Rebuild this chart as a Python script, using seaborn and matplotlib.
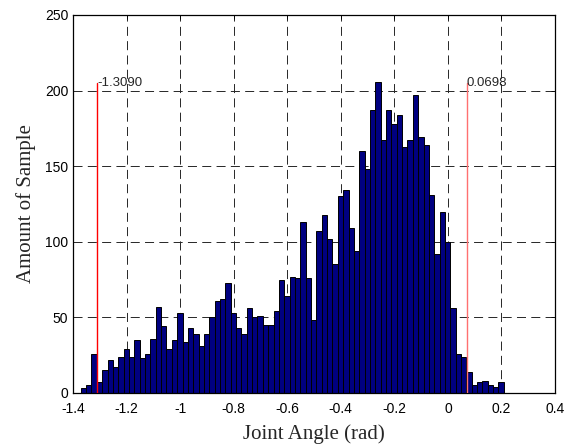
import numpy as np
import pandas as pd
import matplotlib
matplotlib.use("Agg")
import matplotlib.pyplot as plt
import seaborn as sns

# ---- data ----
bin_start = -1.371
bin_width = 0.02
counts = [3, 5, 26, 7, 15, 22, 17, 24, 29, 24,
          35, 23, 26, 36, 57, 44, 29, 35, 53, 34,
          43, 39, 31, 39, 50, 61, 62, 73, 53, 43,
          39, 56, 50, 51, 45, 45, 54, 75, 64, 77,
          76, 113, 76, 48, 107, 118, 102, 85, 130, 134,
          109, 94, 160, 148, 187, 206, 167, 187, 178, 184,
          163, 167, 197, 169, 164, 131, 92, 120, 100, 56,
          26, 24, 14, 5, 7, 8, 5, 4, 7]
limit_values = [-1.3090, 0.0698]
limit_labels = ["-1.3090", "0.0698"]
limit_height = 205
x_ticks = [-1.4, -1.2, -1.0, -0.8, -0.6, -0.4, -0.2, 0.0, 0.2, 0.4]
x_tick_labels = ["-1.4", "-1.2", "-1", "-0.8", "-0.6", "-0.4", "-0.2", "0", "0.2", "0.4"]
y_ticks = [0, 50, 100, 150, 200, 250]
x_label = "Joint Angle (rad)"
y_label = "Amount of Sample"

n = len(counts)
edges = bin_start + bin_width * np.arange(n + 1)
centers = (edges[:-1] + edges[1:]) / 2
df = pd.DataFrame({"angle": centers, "count": counts})

sns.set_style("white")
plt.rcParams["font.family"] = ["Liberation Sans", "DejaVu Sans"]
plt.rcParams["lines.scale_dashes"] = False

fig = plt.figure(figsize=(5.69, 4.47), dpi=100)
ax = fig.add_axes([73 / 569, 1 - 393 / 447, (555 - 73) / 569, (393 - 15) / 447])

sns.histplot(data=df, x="angle", weights="count",
             binwidth=bin_width, binrange=(float(edges[0]), float(edges[-1])), ax=ax,
             color="#000080", edgecolor="black", linewidth=0.7, alpha=1.0,
             zorder=2)

for xv, lab, col in zip(limit_values, limit_labels, ["#ff0000", "#ff7070"]):
    ax.plot([xv, xv], [0, limit_height], color=col, lw=1.0, zorder=3)
    ax.text(xv, limit_height, lab, ha="left", va="center", fontsize=9.5,
            family=["Liberation Sans", "DejaVu Sans"], zorder=4)

ax.set_xlim(-1.4, 0.4)
ax.set_ylim(0, 250)
ax.set_xticks(x_ticks)
ax.set_xticklabels(x_tick_labels)
ax.set_yticks(y_ticks)
ax.tick_params(direction="in", length=3, width=0.6, labelsize=10, colors="black",
               top=True, right=True)
ax.tick_params(axis="x", pad=6.5)
ax.tick_params(axis="y", pad=3.5)
ax.grid(True, color="#262626", linestyle=(0, (6.5, 3.8)), linewidth=0.7, zorder=0)
ax.set_axisbelow(True)
for s in ax.spines.values():
    s.set_visible(True)
    s.set_color("black")
    s.set_linewidth(0.9)

ax.set_xlabel(x_label, family=["Liberation Serif"], fontsize=15, labelpad=6)
ax.set_ylabel(y_label, family=["Liberation Serif"], fontsize=15, labelpad=6)

fig.savefig("out.png", dpi=100)
